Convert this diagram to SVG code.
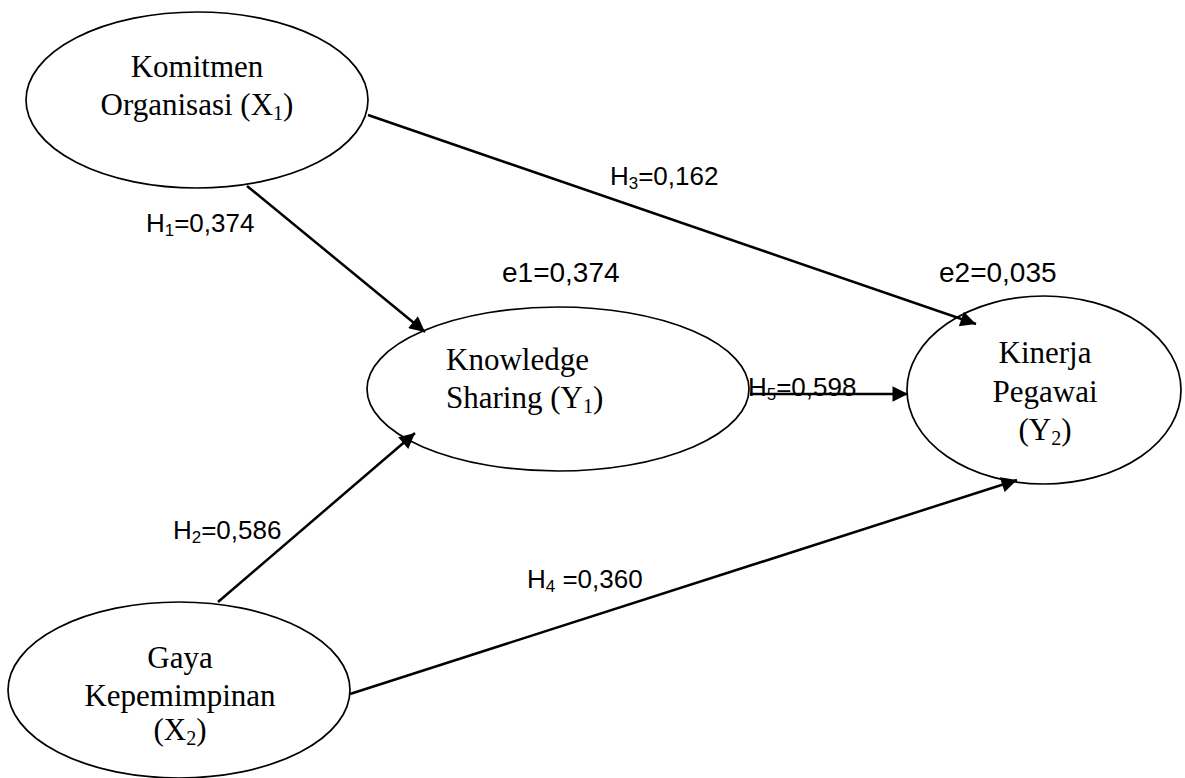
<svg xmlns="http://www.w3.org/2000/svg" width="1185" height="778" viewBox="0 0 1185 778">
<style>
.node ellipse{fill:#fff;stroke:#000;stroke-width:1.7}
.nt{font-family:"Liberation Serif","Times New Roman",serif;font-size:31px;fill:#000}
.lab{font-family:"Liberation Sans",Arial,sans-serif;font-size:26px;fill:#000}
.elab{font-family:"Liberation Sans",Arial,sans-serif;font-size:28px;fill:#000}
.sub{font-size:65%}
.conn line{stroke:#000;stroke-width:2.5;marker-end:url(#ah)}
</style>
<defs>
<marker id="ah" viewBox="0 0 10 10" refX="10" refY="5" markerWidth="7.5" markerHeight="6.2" markerUnits="strokeWidth" orient="auto">
<path d="M0,0 L10,5 L0,10 z" fill="#000"/>
</marker>
</defs>
<rect width="1185" height="778" fill="#fff"/>
<g class="node" id="komitmen">
<ellipse cx="197" cy="100" rx="171" ry="88"/>
<text class="nt" x="197" y="77" text-anchor="middle">Komitmen</text>
<text class="nt" x="197" y="115" text-anchor="middle">Organisasi (X<tspan class="sub" dy="5">1</tspan><tspan dy="-5">)</tspan></text>
</g>
<g class="node" id="knowledge">
<ellipse cx="558" cy="389" rx="191" ry="82"/>
<text class="nt" x="446" y="370">Knowledge</text>
<text class="nt" x="446" y="408">Sharing (Y<tspan class="sub" dy="5">1</tspan><tspan dy="-5">)</tspan></text>
</g>
<g class="node" id="kinerja">
<ellipse cx="1044" cy="390" rx="137" ry="94"/>
<text class="nt" x="1045" y="363" text-anchor="middle">Kinerja</text>
<text class="nt" x="1045" y="402" text-anchor="middle">Pegawai</text>
<text class="nt" x="1045" y="440" text-anchor="middle">(Y<tspan class="sub" dy="5">2</tspan><tspan dy="-5">)</tspan></text>
</g>
<g class="node" id="gaya">
<ellipse cx="179" cy="690" rx="171" ry="88"/>
<text class="nt" x="180" y="668" text-anchor="middle">Gaya</text>
<text class="nt" x="180" y="706" text-anchor="middle">Kepemimpinan</text>
<text class="nt" x="180" y="740" text-anchor="middle">(X<tspan class="sub" dy="5">2</tspan><tspan dy="-5">)</tspan></text>
</g>
<g class="conn" id="connectors">
<line x1="247" y1="186" x2="425" y2="332"/>
<line x1="368" y1="115" x2="976" y2="324"/>
<line x1="750" y1="394" x2="908" y2="394"/>
<line x1="218" y1="602" x2="415" y2="433"/>
<line x1="350" y1="694" x2="1017" y2="480"/>
</g>
<g id="labels">
<text class="lab" x="146" y="232">H<tspan class="sub" dy="4">1</tspan><tspan dy="-4">=0,374</tspan></text>
<text class="lab" x="610" y="185">H<tspan class="sub" dy="4">3</tspan><tspan dy="-4">=0,162</tspan></text>
<text class="lab" x="748" y="396">H<tspan class="sub" dy="4">5</tspan><tspan dy="-4">=0,598</tspan></text>
<text class="lab" x="173" y="539">H<tspan class="sub" dy="4">2</tspan><tspan dy="-4">=0,586</tspan></text>
<text class="lab" x="527" y="588">H<tspan class="sub" dy="4">4</tspan><tspan dy="-4"> =0,360</tspan></text>
<text class="elab" x="502" y="282">e1=0,374</text>
<text class="elab" x="939" y="282">e2=0,035</text>
</g>
</svg>
